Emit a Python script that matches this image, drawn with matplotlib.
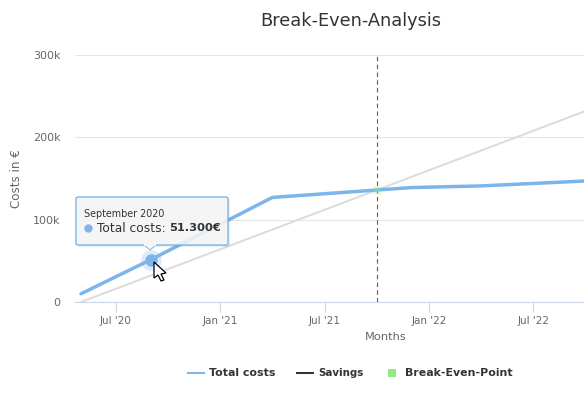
import matplotlib
matplotlib.use("Agg")
import matplotlib.pyplot as plt
from matplotlib.lines import Line2D
from matplotlib.patches import FancyBboxPatch, Polygon

# month index counted from May 2020
month_idx = [0, 4, 11, 17, 19, 23, 26, 29]
total_costs = [10000, 51300, 127000, 136000, 139000, 141000, 144000, 147000]
savings_idx = [0, 29]
savings = [0, 232000]
break_even_idx = 17
break_even_val = 136000
tick_idx = [2, 8, 14, 20, 26]
tick_labels = ["Jul '20", "Jan '21", "Jul '21", "Jan '22", "Jul '22"]
y_ticks = [0, 100000, 200000, 300000]
y_labels = ["0", "100k", "200k", "300k"]

W, H = 584, 394
plt.rcParams['font.family'] = ['DejaVu Sans']

fig = plt.figure(figsize=(W / 100, H / 100), dpi=100)
ax = fig.add_axes([75 / W, (H - 302) / H, (W - 75) / W, (302 - 55) / H])


def fx(x):
    return x / W


def fy(y):
    return (H - y) / H


ax.set_ylim(0, 300000)
# 17.4 px per month, May 2020 sits at x=81
ax.set_xlim(-6 / 17.4, (W - 81) / 17.4)

for s in ["top", "left", "right"]:
    ax.spines[s].set_visible(False)
ax.spines["bottom"].set_color("#ccd6eb")
ax.spines["bottom"].set_linewidth(0.8)
ax.grid(axis="y", color="#e6e6e6", lw=0.75)
ax.set_axisbelow(True)

ax.set_yticks(y_ticks, y_labels, fontsize=8, color="#666666")
ax.set_xticks(tick_idx, tick_labels, fontsize=7.5, color="#666666")
ax.tick_params(axis="y", length=0, pad=10.5)
ax.tick_params(axis="x", length=7, width=0.8, color="#ccd6eb", pad=3)

ax.axvline(break_even_idx, color="#cc2b36", lw=0.8, ls=(0, (4, 3)), zorder=2)
ax.plot(savings_idx, savings, color="#dcdcdc", lw=1.45, zorder=3, solid_capstyle="round")
ax.plot(month_idx, total_costs, color="#7cb5ec", lw=2.5, zorder=4, solid_capstyle="round")
ax.plot(break_even_idx, break_even_val, "s", color="#90ed7d", ms=6, alpha=0.3, mec="none", zorder=5)

# hovered point with halo
ax.plot(month_idx[1], total_costs[1], "o", color="#7cb5ec", ms=15, alpha=0.25, mec="none", zorder=5)
ax.plot(month_idx[1], total_costs[1], "o", color="#7cb5ec", ms=9, mec="none", zorder=6)

fig.text(fx(351), fy(21), "Break-Even-Analysis", fontsize=12.8, color="#333333", ha="center", va="center")
fig.text(fx(386), fy(337), "Months", fontsize=8.2, color="#666666", ha="center", va="center")
fig.text(fx(16), fy(179), "Costs in €", fontsize=8.6, color="#666666", rotation=90, ha="center", va="center")

# tooltip
shadow = FancyBboxPatch((fx(78), fy(247)), 152 / W, 48 / H, boxstyle="round,pad=0,rounding_size=0.004",
                        transform=fig.transFigure, fc="#000000", ec="none", alpha=0.08, zorder=7)
box = FancyBboxPatch((fx(76), fy(245)), 152 / W, 48 / H, boxstyle="round,pad=0,rounding_size=0.004",
                     transform=fig.transFigure, fc=(0.97, 0.97, 0.97, 0.88), ec="#7cb5ec", lw=1, zorder=8)
tip = Polygon([(fx(144), fy(245)), (fx(150), fy(250)), (fx(156), fy(245))], transform=fig.transFigure,
              fc="#f7f7f7", ec="#7cb5ec", lw=0.7, zorder=9)
fig.patches.extend([shadow, box, tip])
fig.add_artist(Line2D([fx(145), fx(155)], [fy(245), fy(245)], color="#f7f7f7", lw=1.4, zorder=10))
fig.add_artist(Line2D([fx(88)], [fy(228)], marker="o", ms=6, color="#7cb5ec", mec="none", zorder=10))
fig.text(fx(84), fy(214), "September 2020", fontsize=6.9, color="#333333", va="center", zorder=10)
fig.text(fx(97), fy(228), "Total costs:", fontsize=8.8, color="#333333", va="center", zorder=10)
fig.text(fx(169), fy(228), "51.300€", fontsize=8.2, color="#333333", va="center", weight="bold", zorder=10)

# mouse cursor
cur = [(154, 262), (154, 278), (158, 275), (161, 281), (164, 280), (161, 274), (166, 273)]
fig.add_artist(Polygon([(fx(a), fy(b)) for a, b in cur], transform=fig.transFigure,
                       fc="white", ec="black", lw=0.9, zorder=11))

# legend is laid out by hand so the gaps follow the picture
fig.add_artist(Line2D([fx(188), fx(204)], [fy(373), fy(373)], color="#7cb5ec", lw=1.45))
fig.text(fx(209), fy(373), "Total costs", fontsize=7.9, weight="bold", color="#333333", va="center")
fig.add_artist(Line2D([fx(297), fx(313)], [fy(373), fy(373)], color="#333333", lw=1.45))
fig.text(fx(318), fy(373), "Savings", fontsize=7.4, weight="bold", color="#333333", va="center")
fig.patches.append(Polygon([(fx(388), fy(369)), (fx(396), fy(369)), (fx(396), fy(377)), (fx(388), fy(377))],
                           transform=fig.transFigure, fc="#90ed7d", ec="none"))
fig.text(fx(405), fy(373), "Break-Even-Point", fontsize=7.9, weight="bold", color="#333333", va="center")

fig.savefig("out.png", dpi=100)
